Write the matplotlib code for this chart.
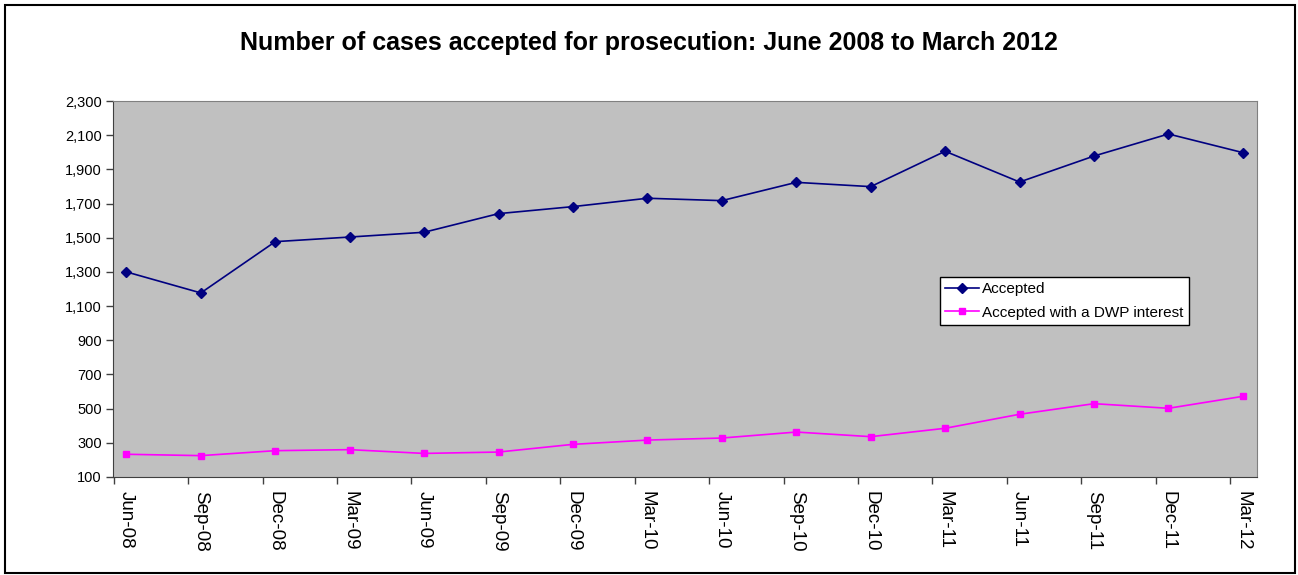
import matplotlib.pyplot as plt
from matplotlib.patches import Rectangle

plt.rcParams['font.family'] = ['Liberation Sans', 'DejaVu Sans']

# Data
quarters = ['Jun-08', 'Sep-08', 'Dec-08', 'Mar-09', 'Jun-09', 'Sep-09', 'Dec-09', 'Mar-10',
            'Jun-10', 'Sep-10', 'Dec-10', 'Mar-11', 'Jun-11', 'Sep-11', 'Dec-11', 'Mar-12']
accepted = [1300, 1177, 1477, 1504, 1532, 1641, 1682, 1731,
            1717, 1824, 1799, 2006, 1826, 1978, 2107, 1998]
accepted_dwp = [233, 225, 254, 260, 238, 246, 291, 316,
                328, 363, 336, 385, 467, 529, 502, 572]
y_ticks = list(range(100, 2301, 200))

x = list(range(len(quarters)))

fig = plt.figure(figsize=(12.98, 5.75), dpi=100)
ax = fig.add_axes([113 / 1298, 1 - 477 / 575, (1257 - 113) / 1298, (477 - 101) / 575])
ax.set_facecolor('#C0C0C0')

ax.plot(x, accepted, color='#000080', marker='D', markersize=5, linewidth=1.2,
        label='Accepted')
ax.plot(x, accepted_dwp, color='#FF00FF', marker='s', markersize=5, linewidth=1.2,
        label='Accepted with a DWP interest')

ax.set_xlim(-0.18, 15.19)
ax.set_ylim(100, 2300)
ax.set_yticks(y_ticks)
ax.set_yticklabels([f'{v:,}' for v in y_ticks], fontsize=10.5)

# tick marks sit a little left of the points, labels sit under the points
ax.set_xticks([i - 0.17 for i in x])
ax.set_xticklabels([])
ax.set_xticks(x, minor=True)
ax.set_xticklabels(quarters, minor=True, rotation=-90, fontsize=13.5, ha='center')
ax.tick_params(axis='both', which='major', direction='out', length=5, width=1, color='#404040', pad=3)
ax.tick_params(axis='x', which='minor', length=0, pad=10)

for side in ['top', 'right']:
    ax.spines[side].set_color('#808080')
for side in ['left', 'bottom']:
    ax.spines[side].set_color('#404040')

leg = ax.legend(loc='upper left', bbox_to_anchor=((940 - 113) / 1144, 1 - (277 - 101) / 376),
                fontsize=11, frameon=True, fancybox=False, framealpha=1,
                edgecolor='black', handlelength=2.2, borderpad=0.35, labelspacing=0.6,
                handletextpad=0.2, borderaxespad=0)
leg.get_frame().set_linewidth(1)

fig.text(0.5, 1 - 43 / 575, 'Number of cases accepted for prosecution: June 2008 to March 2012',
         ha='center', va='center', fontsize=18, fontweight='bold')

# Outer chart border
fig.patches.append(Rectangle((5 / 1298, 2 / 575), 1290 / 1298, 568 / 575,
                             transform=fig.transFigure, fill=False,
                             edgecolor='black', linewidth=1.5))

fig.savefig('out.png', dpi=100)
